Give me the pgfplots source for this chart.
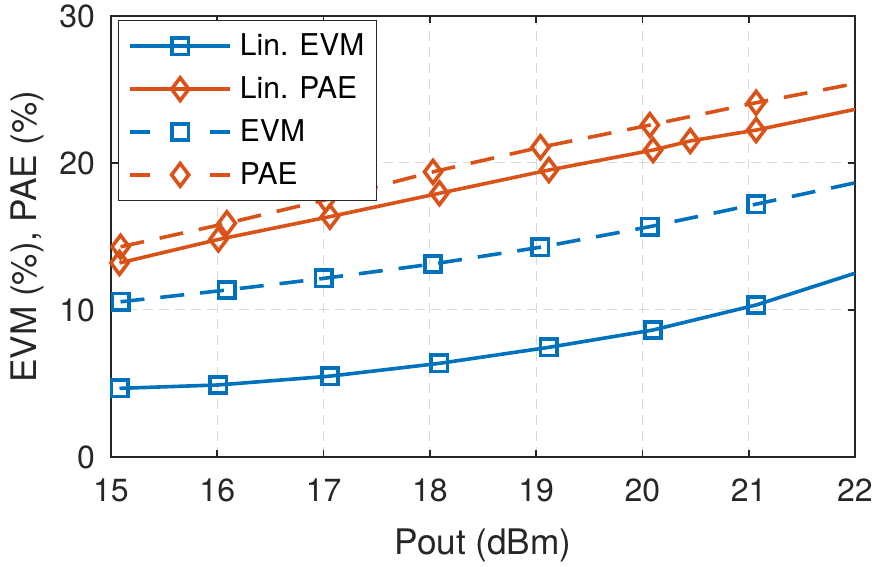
\documentclass[border=0pt]{standalone}
\usepackage{fontspec}
\setmainfont{TeX Gyre Heros}
\usepackage{pgfplots}
\pgfplotsset{compat=1.18}
\definecolor{mblue}{RGB}{0,114,189}
\definecolor{morange}{RGB}{217,83,25}
\definecolor{mgray}{RGB}{38,38,38}
\newcommand{\lf}{\fontsize{15}{18}\selectfont}
\begin{document}
\begin{tikzpicture}
\path[use as bounding box] (-55.5pt,-55pt) rectangle (382pt,228.5pt);
\begin{axis}[
  scale only axis, width=372pt, height=220.5pt,
  xmin=15, xmax=22, ymin=0, ymax=30,
  xtick={15,16,17,18,19,20,21,22}, ytick={0,10,20,30},
  grid=major,
  major grid style={gray!30, line width=0.5pt, dash pattern=on 5pt off 3pt},
  axis line style={mgray, line width=0.8pt},
  tick style={mgray, line width=0.8pt},
  tick align=inside, major tick length=3.5pt,
  /pgf/number format/assume math mode=true,
  ticklabel style={font=\fontsize{16}{19}\selectfont, text=mgray},
  xticklabel style={yshift=-7.5pt},
  yticklabel style={xshift=-4.5pt},
  label style={font=\fontsize{17.6}{21}\selectfont, text=mgray},
  xlabel={Pout (dBm)}, ylabel={EVM (\%), PAE (\%)},
  x label style={at={(axis description cs:0.5,-0.2)}, anchor=center},
  y label style={at={(axis description cs:-0.113,0.5)}, anchor=center},
  legend style={at={(axis description cs:0.0094,0.99)}, anchor=north west,
    draw=mgray, fill=white,
    inner xsep=5pt, inner ysep=5.5pt, row sep=7pt,
    nodes={inner sep=1pt}, column sep=3pt},
  legend cell align=left,
  legend image code/.code={\draw[solid, line width=1.8pt] (0pt,0pt)--(50pt,0pt); \draw[solid, line width=1.8pt] plot coordinates {(25pt,0pt)};},
]
\addplot[mblue, line width=1.8pt, mark=square, mark size=4.1pt, mark options={solid}, mark indices={1,...,7}]
  coordinates {(15.08,4.67) (16.01,4.9) (17.06,5.5) (18.09,6.37) (19.12,7.46) (20.1,8.64) (21.07,10.34) (22,12.5)};
\addlegendentry{\lf Lin. EVM}
\addplot[morange, line width=1.8pt, mark=diamond, mark size=5.7pt, mark options={solid}, mark indices={1,...,8}]
  coordinates {(15.08,13.2) (16.01,14.8) (17.06,16.35) (18.09,17.94) (19.12,19.52) (20.1,20.88) (20.45,21.5) (21.07,22.24) (22,23.65)};
\addlegendentry{\lf Lin. PAE}
\addplot[mblue, line width=1.8pt, dash pattern=on 12pt off 8pt, mark=square, mark size=4.1pt, mark options={solid}, mark indices={1,...,7},
  legend image code/.code={\draw[solid, line width=1.8pt] (0pt,0pt)--(10pt,0pt) (40pt,0pt)--(50pt,0pt); \draw[solid, line width=1.8pt] plot coordinates {(25pt,0pt)};}]
  coordinates {(15.09,10.56) (16.09,11.36) (17.0,12.15) (18.03,13.13) (19.04,14.27) (20.07,15.67) (21.07,17.2) (22,18.65)};
\addlegendentry{\lf EVM}
\addplot[morange, line width=1.8pt, dash pattern=on 12pt off 8pt, mark=diamond, mark size=5.7pt, mark options={solid}, mark indices={1,...,7},
  legend image code/.code={\draw[solid, line width=1.8pt] (0pt,0pt)--(10pt,0pt) (40pt,0pt)--(50pt,0pt); \draw[solid, line width=1.8pt] plot coordinates {(25pt,0pt)};}]
  coordinates {(15.09,14.3) (16.09,15.9) (17.02,17.5) (18.03,19.4) (19.04,21.07) (20.07,22.58) (21.07,24.1) (22,25.4)};
\addlegendentry{\lf PAE}
\end{axis}
\end{tikzpicture}
\end{document}
